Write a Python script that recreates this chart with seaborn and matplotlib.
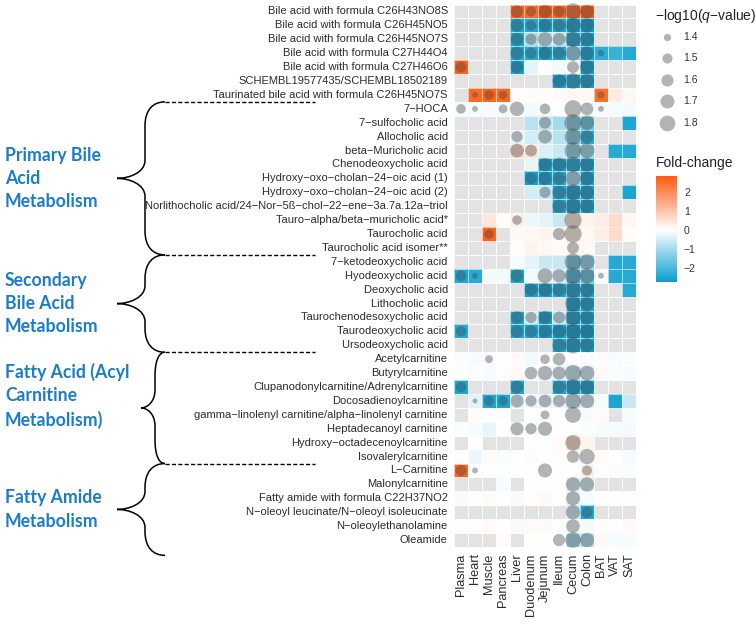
import numpy as np
import pandas as pd
import matplotlib
matplotlib.use('Agg')
import matplotlib.pyplot as plt
import seaborn as sns
from matplotlib.colors import LinearSegmentedColormap, ListedColormap
from matplotlib.path import Path
from matplotlib.patches import PathPatch

n = np.nan

tissues = ['Plasma', 'Heart', 'Muscle', 'Pancreas', 'Liver', 'Duodenum', 'Jejunum',
           'Ileum', 'Cecum', 'Colon', 'BAT', 'VAT', 'SAT']

metabolites = [
    'Bile acid with formula C26H43NO8S',
    'Bile acid with formula C26H45NO5',
    'Bile acid with formula C26H45NO7S',
    'Bile acid with formula C27H44O4',
    'Bile acid with formula C27H46O6',
    'SCHEMBL19577435/SCHEMBL18502189',
    'Taurinated bile acid with formula C26H45NO7S',
    '7-HOCA',
    '7-sulfocholic acid',
    'Allocholic acid',
    'beta-Muricholic acid',
    'Chenodeoxycholic acid',
    'Hydroxy-oxo-cholan-24-oic acid (1)',
    'Hydroxy-oxo-cholan-24-oic acid (2)',
    'Norlithocholic acid/24-Nor-5ß-chol-22-ene-3a.7a.12a-triol',
    'Tauro-alpha/beta-muricholic acid*',
    'Taurocholic acid',
    'Taurocholic acid isomer**',
    '7-ketodeoxycholic acid',
    'Hyodeoxycholic acid',
    'Deoxycholic acid',
    'Lithocholic acid',
    'Taurochenodesoxycholic acid',
    'Taurodeoxycholic acid',
    'Ursodeoxycholic acid',
    'Acetylcarnitine',
    'Butyrylcarnitine',
    'Clupanodonylcarnitine/Adrenylcarnitine',
    'Docosadienoylcarnitine',
    'gamma-linolenyl carnitine/alpha-linolenyl carnitine',
    'Heptadecanoyl carnitine',
    'Hydroxy-octadecenoylcarnitine',
    'Isovalerylcarnitine',
    'L-Carnitine',
    'Malonylcarnitine',
    'Fatty amide with formula C22H37NO2',
    'N-oleoyl leucinate/N-oleoyl isoleucinate',
    'N-oleoylethanolamine',
    'Oleamide',
]

# fold-change per tissue (NaN = not measured)
fold_change = [
    [n, n, n, n, 2.7, 2.6, 2.8, 2.7, 2.6, 2.84, n, n, n],
    [n, n, n, n, -2.5, -2.4, -2.6, -2.5, -2.6, -2.7, n, n, n],
    [n, n, n, n, -2.5, -0.9, -0.6, -0.7, -2.5, -2.6, n, n, n],
    [n, n, n, n, -2.5, -2.4, -2.6, -2.5, -1.2, -2.6, -2.3, -2.2, -2.4],
    [2.7, n, n, n, -2.6, -0.3, 0.0, -0.15, -0.1, -2.6, n, n, n],
    [n, n, n, n, n, n, n, -2.6, -2.5, -2.6, n, n, n],
    [n, 2.6, 2.7, 2.6, 0.03, 0.05, 0.04, 0.08, 0.15, 0.12, 2.5, 0.35, 0.15],
    [-0.1, -0.12, -0.1, -0.12, -0.08, -0.15, -0.1, 0.0, -0.1, -0.1, -0.1, -0.12, -0.15],
    [n, n, n, n, n, -0.8, -0.7, -1.0, -1.4, -1.6, n, n, -2.5],
    [n, n, n, n, -0.3, -0.5, -0.5, -0.8, -1.4, -2.4, n, n, n],
    [n, n, n, n, 0.6, 0.45, -0.4, -0.6, -1.3, -1.1, n, -2.4, -2.4],
    [n, n, n, n, n, -0.25, -2.6, -2.6, -2.5, -2.6, n, n, n],
    [n, n, n, n, n, -2.6, -2.6, -2.5, -1.0, -2.6, n, n, n],
    [n, n, n, n, n, -0.5, -0.6, -2.5, -2.6, -2.6, n, n, -2.5],
    [n, n, n, n, n, n, n, -2.5, -2.6, -2.6, n, n, n],
    [n, n, 0.4, 0.05, 0.3, -0.2, -0.3, -0.6, 0.4, 0.2, 0.3, 0.6, 0.15],
    [n, n, 2.7, n, 0.1, 0.15, 0.2, 0.15, 0.25, 0.15, 0.3, 0.6, 0.05],
    [n, n, n, n, 0.05, 0.2, 0.15, 0.1, 0.2, 0.1, n, n, n],
    [n, n, n, n, -0.1, -0.3, -0.6, -0.6, -1.6, -1.2, n, -2.4, -2.4],
    [-2.5, -2.4, -0.15, -0.15, -2.5, -0.15, -0.3, -0.4, -2.0, -1.7, -0.1, -2.4, -2.4],
    [n, n, n, n, n, -2.6, -2.6, -2.5, -2.6, -2.6, n, n, -2.4],
    [n, n, n, n, n, n, n, n, -2.6, -2.6, n, n, n],
    [n, n, n, n, -2.5, -0.5, -2.6, -0.6, -2.6, -2.6, n, n, n],
    [-2.4, n, n, n, -2.5, -2.5, -2.6, -2.6, -2.7, -2.74, n, n, n],
    [n, n, n, n, n, n, n, -2.5, -2.6, -2.6, n, n, n],
    [-0.05, -0.1, -0.08, 0.0, 0.1, -0.15, 0.0, -0.05, 0.0, -0.05, 0.05, -0.1, -0.05],
    [0.0, -0.05, -0.1, 0.0, 0.1, -0.1, -0.2, -0.3, -0.6, -0.4, 0.1, -0.05, -0.1],
    [-2.5, n, n, n, -2.5, n, n, -2.5, -2.6, -2.6, n, n, n],
    [n, -0.3, -2.5, -2.5, -0.3, -0.2, -0.3, -0.3, -0.7, -0.4, -0.1, -2.5, -0.6],
    [n, 0.05, 0.0, 0.05, n, 0.0, -0.05, 0.0, -0.05, -0.1, 0.1, n, -0.1],
    [-0.05, -0.1, -0.25, 0.0, -0.1, -0.1, -0.1, 0.0, 0.0, -0.05, -0.1, -0.1, -0.15],
    [n, 0.05, n, n, n, 0.0, 0.0, 0.1, 0.6, 0.2, n, n, n],
    [0.05, -0.2, 0.1, -0.05, 0.0, -0.05, 0.0, 0.05, 0.0, -0.05, 0.1, 0.0, -0.1],
    [2.6, 0.0, 0.0, 0.0, 0.0, 0.0, 0.0, 0.0, 0.0, 0.3, 0.0, -0.05, -0.05],
    [n, n, n, -0.1, n, 0.0, 0.0, 0.0, -0.4, -0.4, n, n, n],
    [-0.1, 0.0, 0.1, 0.0, -0.1, 0.05, 0.1, 0.0, -0.3, -0.1, 0.0, 0.0, 0.05],
    [n, n, n, n, n, n, n, n, -0.5, -2.5, n, n, n],
    [0.0, 0.0, 0.1, 0.0, -0.1, 0.1, 0.1, 0.0, -0.1, -0.1, 0.0, 0.0, 0.1],
    [n, n, n, 0.1, n, 0.0, 0.0, 0.0, -1.0, -0.8, 0.1, -0.1, -0.1],
]

# -log10(q-value), only where significant
neg_log_q = [
    [n, n, n, n, 1.60, 1.50, 1.65, 1.55, 1.85, 1.68, n, n, n],
    [n, n, n, n, 1.62, 1.52, 1.62, 1.60, 1.75, 1.70, n, n, n],
    [n, n, n, n, 1.62, 1.55, 1.72, 1.62, 1.78, 1.70, n, n, n],
    [n, n, n, n, 1.65, 1.55, 1.62, 1.60, 1.78, 1.68, 1.38, n, n],
    [1.55, n, n, n, 1.60, n, n, n, 1.58, 1.70, n, n, n],
    [n, n, n, n, n, n, n, 1.65, 1.80, 1.72, n, n, n],
    [n, 1.36, 1.48, 1.45, n, n, n, n, n, n, 1.40, n, n],
    [1.48, 1.36, n, 1.45, 1.72, n, 1.52, n, 1.90, 1.62, 1.36, n, n],
    [n, n, n, n, n, n, 1.58, n, 1.92, 1.72, n, n, n],
    [n, n, n, n, 1.55, n, 1.68, n, 1.85, 1.62, n, n, n],
    [n, n, n, n, 1.68, 1.58, n, n, 1.88, 1.75, n, n, n],
    [n, n, n, n, n, n, 1.65, 1.68, 1.80, 1.70, n, n, n],
    [n, n, n, n, n, 1.58, 1.65, 1.62, 1.78, 1.68, n, n, n],
    [n, n, n, n, n, n, 1.55, 1.65, 1.82, 1.70, n, n, n],
    [n, n, n, n, n, n, n, 1.65, 1.80, 1.70, n, n, n],
    [n, n, n, n, 1.48, n, n, n, 1.92, n, n, n, n],
    [n, n, 1.48, n, n, n, n, 1.60, 1.92, n, n, n, n],
    [n, n, n, n, n, n, n, n, 1.58, n, n, n, n],
    [n, n, n, n, n, n, n, n, 1.88, 1.78, n, n, n],
    [1.52, 1.36, n, n, 1.62, n, 1.75, 1.65, 1.85, 1.75, 1.36, n, n],
    [n, n, n, n, n, 1.62, 1.68, 1.65, 1.82, 1.70, n, n, n],
    [n, n, n, n, n, n, n, n, 1.80, 1.70, n, n, n],
    [n, n, n, n, 1.62, 1.55, 1.65, 1.58, 1.80, 1.70, n, n, n],
    [1.52, n, n, n, 1.62, 1.58, 1.65, 1.65, 1.82, 1.70, n, n, n],
    [n, n, n, n, n, n, n, 1.65, 1.85, 1.70, n, n, n],
    [n, n, 1.42, n, n, n, 1.48, 1.62, n, n, n, n, n],
    [n, n, n, n, n, 1.62, 1.72, 1.65, 1.85, 1.75, n, n, n],
    [1.52, n, n, n, 1.62, n, n, 1.62, 1.80, 1.70, n, n, n],
    [n, 1.34, 1.50, 1.48, 1.65, 1.55, 1.62, 1.60, 1.80, 1.72, n, n, n],
    [n, n, n, n, n, n, 1.45, n, 1.82, n, n, n, n],
    [n, n, n, n, 1.65, 1.55, 1.70, n, n, n, n, n, n],
    [n, n, n, n, n, n, n, n, 1.78, n, n, n, n],
    [n, n, n, n, n, n, n, n, 1.62, 1.78, n, n, n],
    [1.55, 1.36, n, n, n, n, 1.70, n, n, 1.50, n, n, n],
    [n, n, n, n, n, n, n, n, 1.72, 1.72, n, n, n],
    [n, n, n, n, n, n, n, n, 1.70, n, n, n, n],
    [n, n, n, n, n, n, n, n, 1.72, 1.55, n, n, n],
    [n, n, n, n, n, n, n, n, 1.68, n, n, n, n],
    [n, n, n, n, n, n, n, 1.60, 1.80, 1.72, n, n, n],
]

size_breaks = [1.4, 1.5, 1.6, 1.7, 1.8]
fc_ticks = [-2, -1, 0, 1, 2]

group_labels = ['Primary Bile\nAcid\nMetabolism',
                'Secondary\nBile Acid\nMetabolism',
                'Fatty Acid (Acyl\nCarnitine\nMetabolism)',
                'Fatty Amide\nMetabolism']
group_bounds = [7, 18, 25, 33, 39.6]   # row boundaries of the brackets

# ---- style
sns.set_style('white')
plt.rcParams['font.family'] = ['Liberation Sans', 'DejaVu Sans']
plt.rcParams['mathtext.fontset'] = 'custom'
plt.rcParams['mathtext.rm'] = 'Liberation Sans'
plt.rcParams['mathtext.it'] = 'Liberation Sans:italic'

W, H = 755, 627
fig = plt.figure(figsize=(W / 100, H / 100), dpi=100)

# grid placement in pixels
gl, gr, gt, gb = 454, 636, 4.5, 547
row_h = (gb - gt) / len(metabolites)

def row_px(r):
    return gt + r * row_h

over = fig.add_axes([0, 0, 1, 1])
over.set_xlim(0, W)
over.set_ylim(H, 0)
over.axis('off')

ax = fig.add_axes([gl / W, 1 - gb / H, (gr - gl) / W, (gb - gt) / H])

fc = pd.DataFrame(fold_change, index=metabolites, columns=tissues)
lq = pd.DataFrame(neg_log_q, index=metabolites, columns=tissues)

lim = np.nanmax(np.abs(fc.values))
cmap = LinearSegmentedColormap.from_list('fc', ['#009ACD', '#FFFFFF', '#FF5A10'])
edge = (1, 1, 1, 0.6)

# missing tiles
sns.heatmap(fc.isna().astype(float), mask=fc.notna(), cmap=ListedColormap(['#E3E3E3']),
            vmin=0, vmax=1, cbar=False, linewidths=0.4, linecolor=edge, ax=ax)
# fold-change tiles
sns.heatmap(fc, cmap=cmap, vmin=-lim, vmax=lim, cbar=False,
            linewidths=0.4, linecolor=edge, ax=ax)
mesh = ax.collections[-1]

# significance circles
S_RANGE = (2.7, 177.0)
Q_NORM = (1.3, 2.0)
pts = (lq.rename_axis('metabolite').reset_index()
         .melt(id_vars='metabolite', var_name='tissue', value_name='q').dropna())
pts['x'] = pts['tissue'].map({t: i + 0.5 for i, t in enumerate(tissues)})
pts['y'] = pts['metabolite'].map({m: i + 0.5 for i, m in enumerate(metabolites)})
sns.scatterplot(data=pts, x='x', y='y', size='q', sizes=S_RANGE, size_norm=Q_NORM,
                color='#454545', alpha=0.4, linewidth=0, legend=False, ax=ax)
ax.collections[-1].set_clip_on(False)

ax.set_xlim(0, len(tissues))
ax.set_ylim(len(metabolites), 0)
ax.set_xlabel('')
ax.set_ylabel('')
ax.set_xticks(np.arange(len(tissues)) + 0.5)
ax.set_xticklabels(tissues, rotation=90, fontsize=9.2, color='#2b2b2b')
ax.set_yticks(np.arange(len(metabolites)) + 0.5)
ax.set_yticklabels([m.replace('-', '\u2212') for m in metabolites], rotation=0,
                   fontsize=8.0, color='#2b2b2b')
ax.tick_params(axis='both', length=3, width=0.8, color='#333333', pad=1.5)
for s in ax.spines.values():
    s.set_visible(False)

# size legend
def q_area(v):
    return S_RANGE[0] + (v - Q_NORM[0]) / (Q_NORM[1] - Q_NORM[0]) * (S_RANGE[1] - S_RANGE[0])

over.text(655, 16, r'$-$log10($q$$-$value)', fontsize=10, va='center', ha='left', color='#222222')
for i, b in enumerate(size_breaks):
    yy = 37 + i * 21.4
    over.scatter([667], [yy], s=q_area(b), color='#454545', alpha=0.4, linewidth=0)
    over.text(683, yy, f'{b:.1f}', fontsize=7.5, va='center', ha='left', color='#333333')

# colour bar
over.text(656, 163, 'Fold-change', fontsize=10, va='center', ha='left', color='#222222')
cax = fig.add_axes([656 / W, 1 - 282 / H, 21 / W, 106 / H])
cb = fig.colorbar(mesh, cax=cax,
                  boundaries=np.linspace(np.nanmin(fc.values), np.nanmax(fc.values), 300))
cb.outline.set_visible(False)
cb.set_ticks(fc_ticks)
cax.tick_params(direction='in', length=4, width=0.8, color='white', left=True, right=True,
                labelsize=7.5, labelcolor='#333333', pad=5)

# pathway brackets on the left
def brace(top, bot, tip, xm=145, xe=165):
    mid = (top + bot) / 2
    dx = xe - xm
    verts = [(xe, top),
             (xe - 0.6 * dx, top), (xm, top + 8), (xm, top + 24),
             (xm, mid - 18),
             (xm, mid - 6), (tip + 0.45 * (xm - tip), mid), (tip, mid),
             (tip + 0.45 * (xm - tip), mid), (xm, mid + 6), (xm, mid + 18),
             (xm, bot - 24),
             (xm, bot - 8), (xe - 0.6 * dx, bot), (xe, bot)]
    codes = [Path.MOVETO] + [Path.CURVE4] * 3 + [Path.LINETO] + [Path.CURVE4] * 6 + \
            [Path.LINETO] + [Path.CURVE4] * 3
    over.add_patch(PathPatch(Path(verts, codes), fill=False, lw=1.1, color='black'))

brace_tip = [117, 117, 141, 117]
brace_mid = [145, 145, 155, 145]
for k, lab in enumerate(group_labels):
    top, bot = row_px(group_bounds[k]), row_px(group_bounds[k + 1])
    brace(top, bot, brace_tip[k], brace_mid[k])
    over.plot([165, 315], [top, top], color='black', lw=1.0, linestyle=(0, (3, 1.6)))
    ymid = (top + bot) / 2 - (12 if k == 2 else 0)
    over.text(5, ymid, lab, fontsize=12.7, fontweight='bold', color='#1A7DC8',
              family=['Lato', 'DejaVu Sans'], ha='left', va='center', linespacing=1.45)

fig.savefig('out.png', dpi=100)
